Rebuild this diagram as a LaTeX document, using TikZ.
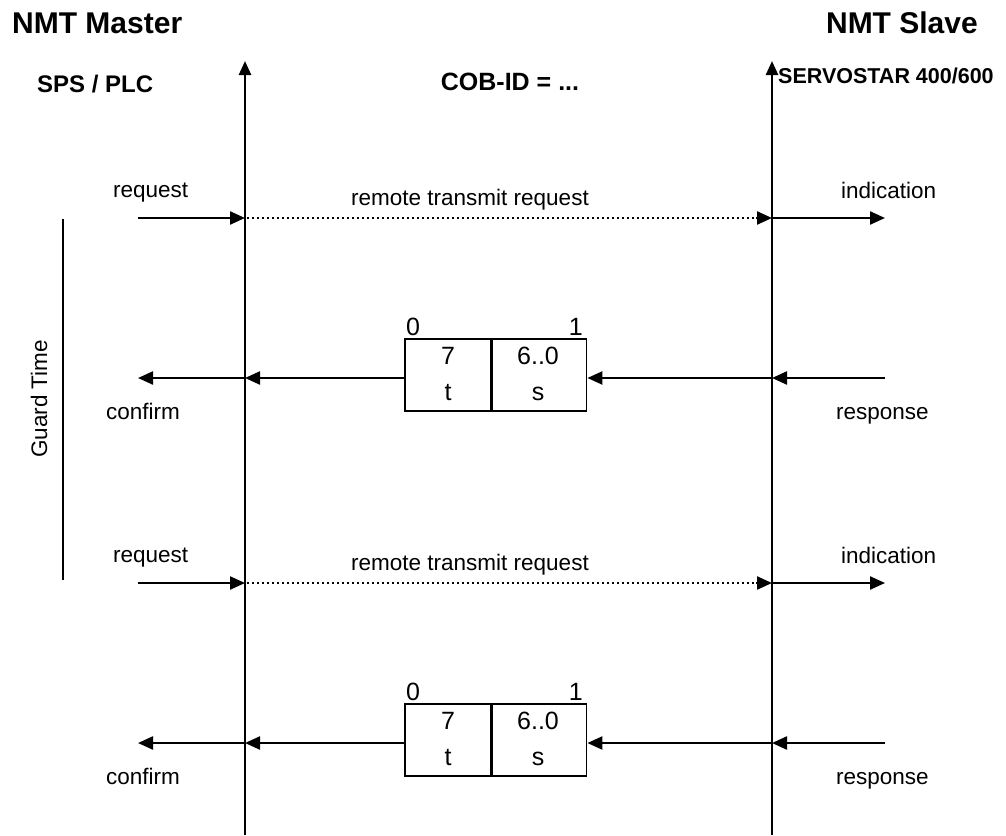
\documentclass[tikz,border=0pt]{standalone}
\usepackage{fontspec}
\setmainfont{Liberation Sans}
\usetikzlibrary{arrows.meta}
\begin{document}
\begin{tikzpicture}[x=1pt,y=-1pt,
  life/.style={line width=2.5pt,-{Triangle[length=14pt,width=12pt]}},
  arr/.style={line width=2.3pt,-{Triangle[length=15pt,width=13pt]}},
  dots/.style={line width=2.2pt,dash pattern=on 2.2pt off 2.8pt},
  lbl/.style={font=\fontsize{22.5}{26}\selectfont,inner sep=0pt},
  head/.style={font=\fontsize{30}{34}\selectfont\bfseries,inner sep=0pt},
  sub/.style={font=\fontsize{24}{28}\selectfont\bfseries,inner sep=0pt},
  boxtxt/.style={font=\fontsize{25}{29}\selectfont,inner sep=0pt},
  cell/.style={draw,line width=1.6pt,minimum height=72pt,inner sep=0pt}]
\useasboundingbox (0,0) rectangle (1006,835);
% headers
\node[head,anchor=base west] (master) at (12,33) {NMT Master};
\node[head,anchor=base east] (slave) at (978,33) {NMT Slave};
\node[sub,anchor=base west] (sps) at (37,92) {SPS / PLC};
\node[sub,anchor=base west,font=\fontsize{21.5}{25}\selectfont\bfseries] (servo) at (778,83) {SERVOSTAR 400/600};
\node[sub,anchor=base,font=\fontsize{25}{29}\selectfont\bfseries] (cob) at (510,90) {COB-ID = ...};
% lifelines
\coordinate (LB) at (245,835);
\coordinate (LT) at (245,61);
\coordinate (RB) at (772,835);
\coordinate (RT) at (772,61);
\draw[life] (LB) -- (LT);
\draw[life] (RB) -- (RT);
% guard time
\coordinate (g1) at (63,219);
\coordinate (g2) at (63,580);
\draw[line width=1.8pt] (g1) -- (g2);
\node[lbl,rotate=90] (guard) at (39,399) {Guard Time};
% request rows
\foreach \y/\n in {218/a,583/b}{
  \coordinate (rq\n) at (138,\y);
  \coordinate (lq\n) at (245,\y);
  \coordinate (rr\n) at (772,\y);
  \coordinate (ri\n) at (885,\y);
  \draw[arr] (rq\n) -- (lq\n);
  \draw[dots] ([xshift=2pt]lq\n) -- ([xshift=-14pt]rr\n);
  \draw[arr,shorten <=-1pt] ([xshift=-15pt]rr\n) -- (rr\n);
  \draw[arr] (rr\n) -- (ri\n);
  \node[lbl,anchor=base west] (req\n) at (113,\y-21) {request};
  \node[lbl,anchor=base] (rtr\n) at (470,\y-13) {remote transmit request};
  \node[lbl,anchor=base west] (ind\n) at (841,\y-20) {indication};
}
% response rows
\foreach \y/\n in {375/a,740/b}{
  \node[cell,minimum width=86pt] (bt\n) at (448,\y) {};
  \node[cell,minimum width=94pt,anchor=west] (bs\n) at (bt\n.east) {};
  \node[boxtxt,anchor=base] (t7\n) at (448,\y-11) {7};
  \node[boxtxt,anchor=base] (tt\n) at (448,\y+25) {t};
  \node[boxtxt,anchor=base] (t6\n) at (538,\y-11) {6..0};
  \node[boxtxt,anchor=base] (ts\n) at (538,\y+25) {s};
  \node[boxtxt,anchor=base west] (z\n) at (406,\y-40) {0};
  \node[boxtxt,anchor=base east] (o\n) at (583,\y-40) {1};
  \coordinate (rs\n) at (885,\y+3);
  \coordinate (rl\n) at (772,\y+3);
  \coordinate (ll\n) at (245,\y+3);
  \coordinate (cf\n) at (138,\y+3);
  \draw[arr] (rs\n) -- (rl\n);
  \draw[arr] (rl\n) -- (bs\n.east|-rl\n);
  \draw[arr] (bt\n.west|-ll\n) -- (ll\n);
  \draw[arr] (ll\n) -- (cf\n);
  \node[lbl,anchor=base west] (conf\n) at (106,\y+44) {confirm};
  \node[lbl,anchor=base west] (resp\n) at (836,\y+44) {response};
}
\end{tikzpicture}
\end{document}
